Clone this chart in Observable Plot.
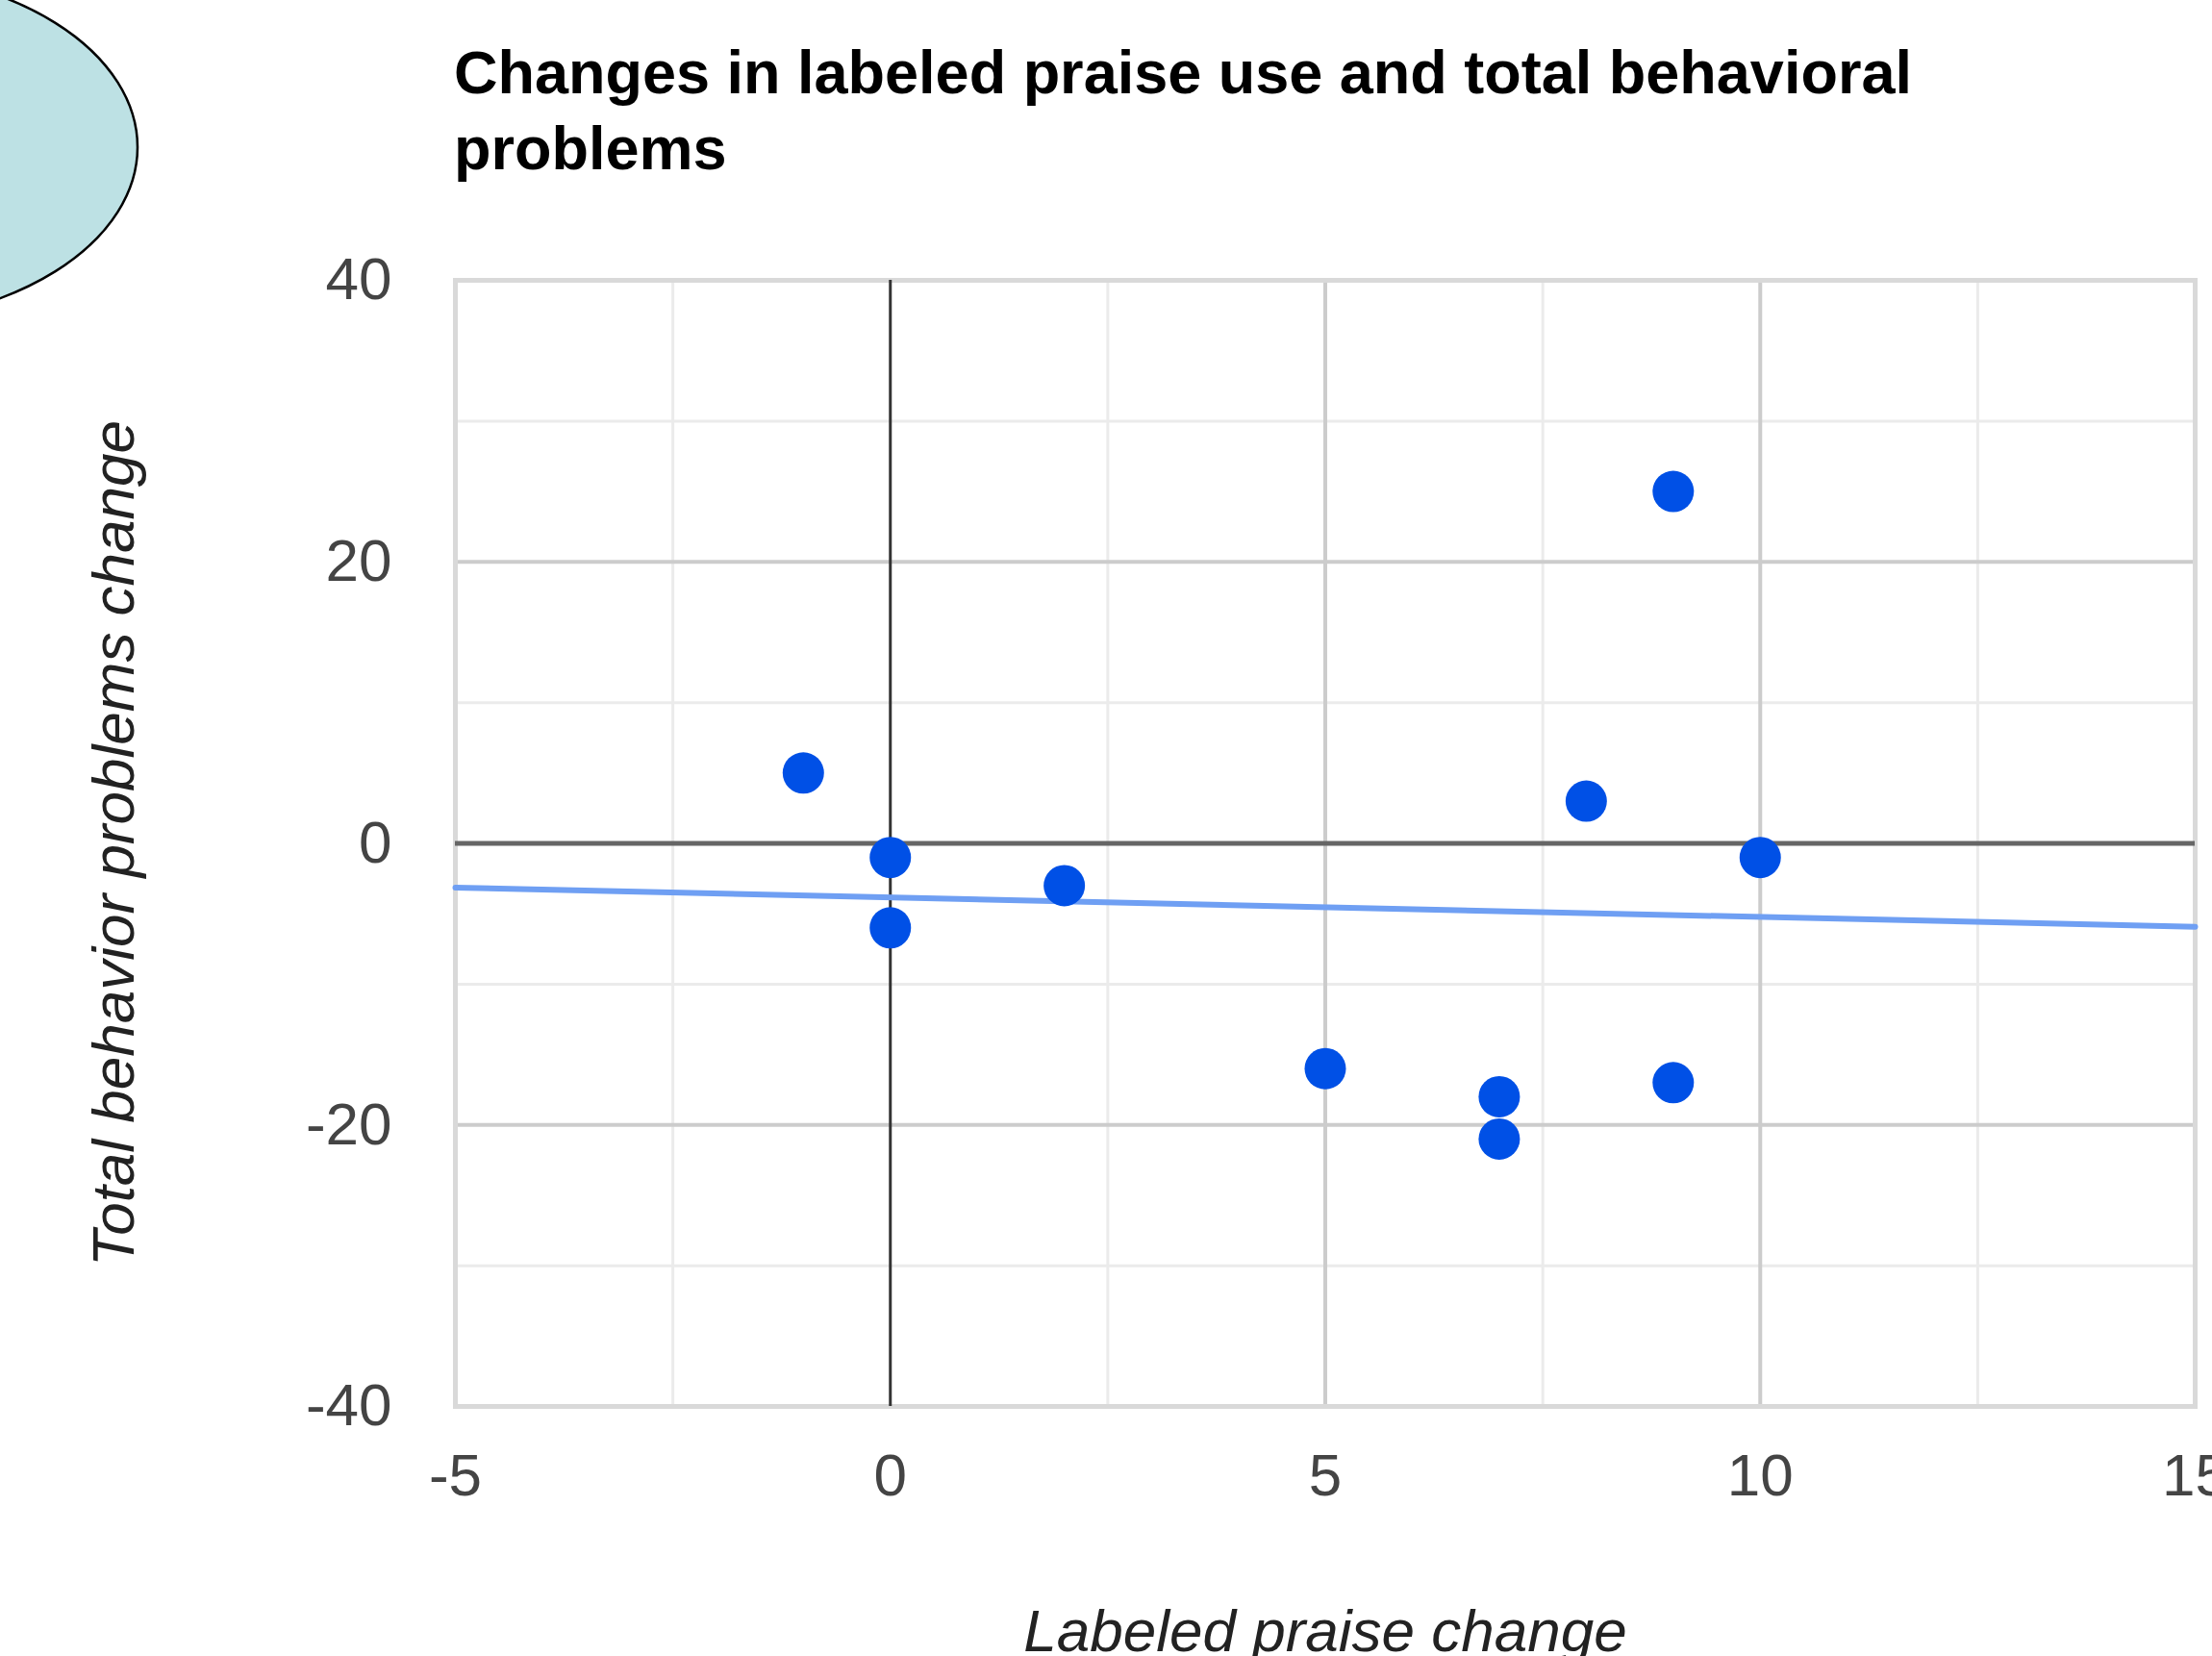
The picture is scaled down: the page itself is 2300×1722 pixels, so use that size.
<!DOCTYPE html>
<html>
<head>
<meta charset="utf-8">
<script src="https://cdn.jsdelivr.net/npm/d3@7"></script>
<script src="https://cdn.jsdelivr.net/npm/@observablehq/plot@0.6"></script>
<style>
  html, body { margin: 0; padding: 0; background: #fff; overflow: hidden; }
  #page { position: relative; width: 2300px; height: 1722px; }
  #deco { position: absolute; left: 0; top: 0; z-index: 2; }
  #title {
    position: absolute; left: 472px; top: 36px;
    font-family: "Liberation Sans", Arial, sans-serif;
    font-weight: bold; font-size: 63px; line-height: 79px; color: #000;
    white-space: nowrap;
  }
  #chart { position: absolute; left: 0; top: 200px; z-index: 1; }
</style>
</head>
<body>
<div id="page">
  <div id="title">Changes in labeled praise use and total behavioral<br>problems</div>
  <div id="chart"></div>
  <svg id="deco" width="320" height="400">
    <ellipse cx="-150" cy="153" rx="293" ry="183" fill="#bde1e4" stroke="#000" stroke-width="2.5"></ellipse>
  </svg>
</div>
<script>
// Data
const praiseChange   = [-1, 0, 0, 2, 5, 7, 7, 8, 9, 9, 10];
const behaviorChange = [5, -1, -6, -3, -16, -18, -21, 3, 25, -17, -1];

const xTicks = [-5, 0, 5, 10, 15];
const yTicks = [-40, -20, 0, 20, 40];
const xMinorTicks = [-2.5, 2.5, 7.5, 12.5];
const yMinorTicks = [-30, -10, 10, 30];

const xTitle = "Labeled praise change";
const yTitle = "Total behavior problems change";

const points = praiseChange.map((x, i) => ({x, y: behaviorChange[i]}));

// Linear (least-squares) trend line across the x domain
const mx = d3.mean(praiseChange), my = d3.mean(behaviorChange);
const sxy = d3.sum(points, d => (d.x - mx) * (d.y - my));
const sxx = d3.sum(points, d => (d.x - mx) ** 2);
const slope = sxy / sxx, intercept = my - slope * mx;
const xDomain = d3.extent(xTicks), yDomain = d3.extent(yTicks);
const trend = xDomain.map(x => ({x, y: intercept + slope * x}));

const font = "'Liberation Sans', Arial, sans-serif";
const fmt = d => String(d);

const chart = Plot.plot({
  width: 2300,
  height: 1522,
  marginLeft: 473,
  marginRight: 18,
  marginTop: 91,
  marginBottom: 260,
  style: {fontFamily: font, color: "#444", background: "white"},
  x: {domain: xDomain, label: null},
  y: {domain: yDomain, label: null},
  marks: [
    Plot.gridX(xMinorTicks, {stroke: "#ebebeb", strokeOpacity: 1, strokeWidth: 3}),
    Plot.gridY(yMinorTicks, {stroke: "#ebebeb", strokeOpacity: 1, strokeWidth: 3}),
    Plot.gridX(xTicks.filter(t => t !== 0), {stroke: "#cccccc", strokeOpacity: 1, strokeWidth: 4}),
    Plot.gridY(yTicks.filter(t => t !== 0), {stroke: "#cccccc", strokeOpacity: 1, strokeWidth: 4}),
    Plot.frame({stroke: "#d9d9d9", strokeWidth: 5}),
    Plot.ruleY([0], {stroke: "#666", strokeWidth: 5}),
    Plot.ruleX([0], {stroke: "#333", strokeWidth: 3}),
    Plot.line(trend, {x: "x", y: "y", stroke: "#6f9ff3", strokeWidth: 6}),
    Plot.dot(points, {x: "x", y: "y", r: 21.5, fill: "#0050e6", stroke: null}),
    Plot.axisX(xTicks, {tickSize: 0, tickPadding: 48, fontSize: 62, fill: "#444", label: null, tickFormat: fmt}),
    Plot.axisY(yTicks, {tickSize: 0, tickPadding: 66, fontSize: 62, fill: "#444", label: null, tickFormat: fmt}),
    Plot.text([xTitle], {frameAnchor: "bottom", text: d => d, lineAnchor: "bottom", textAnchor: "middle", dy: 254,
      fontSize: 62, fontStyle: "italic", fill: "#222"}),
    Plot.text([yTitle], {frameAnchor: "left", text: d => d, lineAnchor: "bottom", textAnchor: "middle", rotate: -90, dx: -335,
      fontSize: 62, fontStyle: "italic", fill: "#222"})
  ]
});
document.getElementById("chart").appendChild(chart);
</script>
</body>
</html>
